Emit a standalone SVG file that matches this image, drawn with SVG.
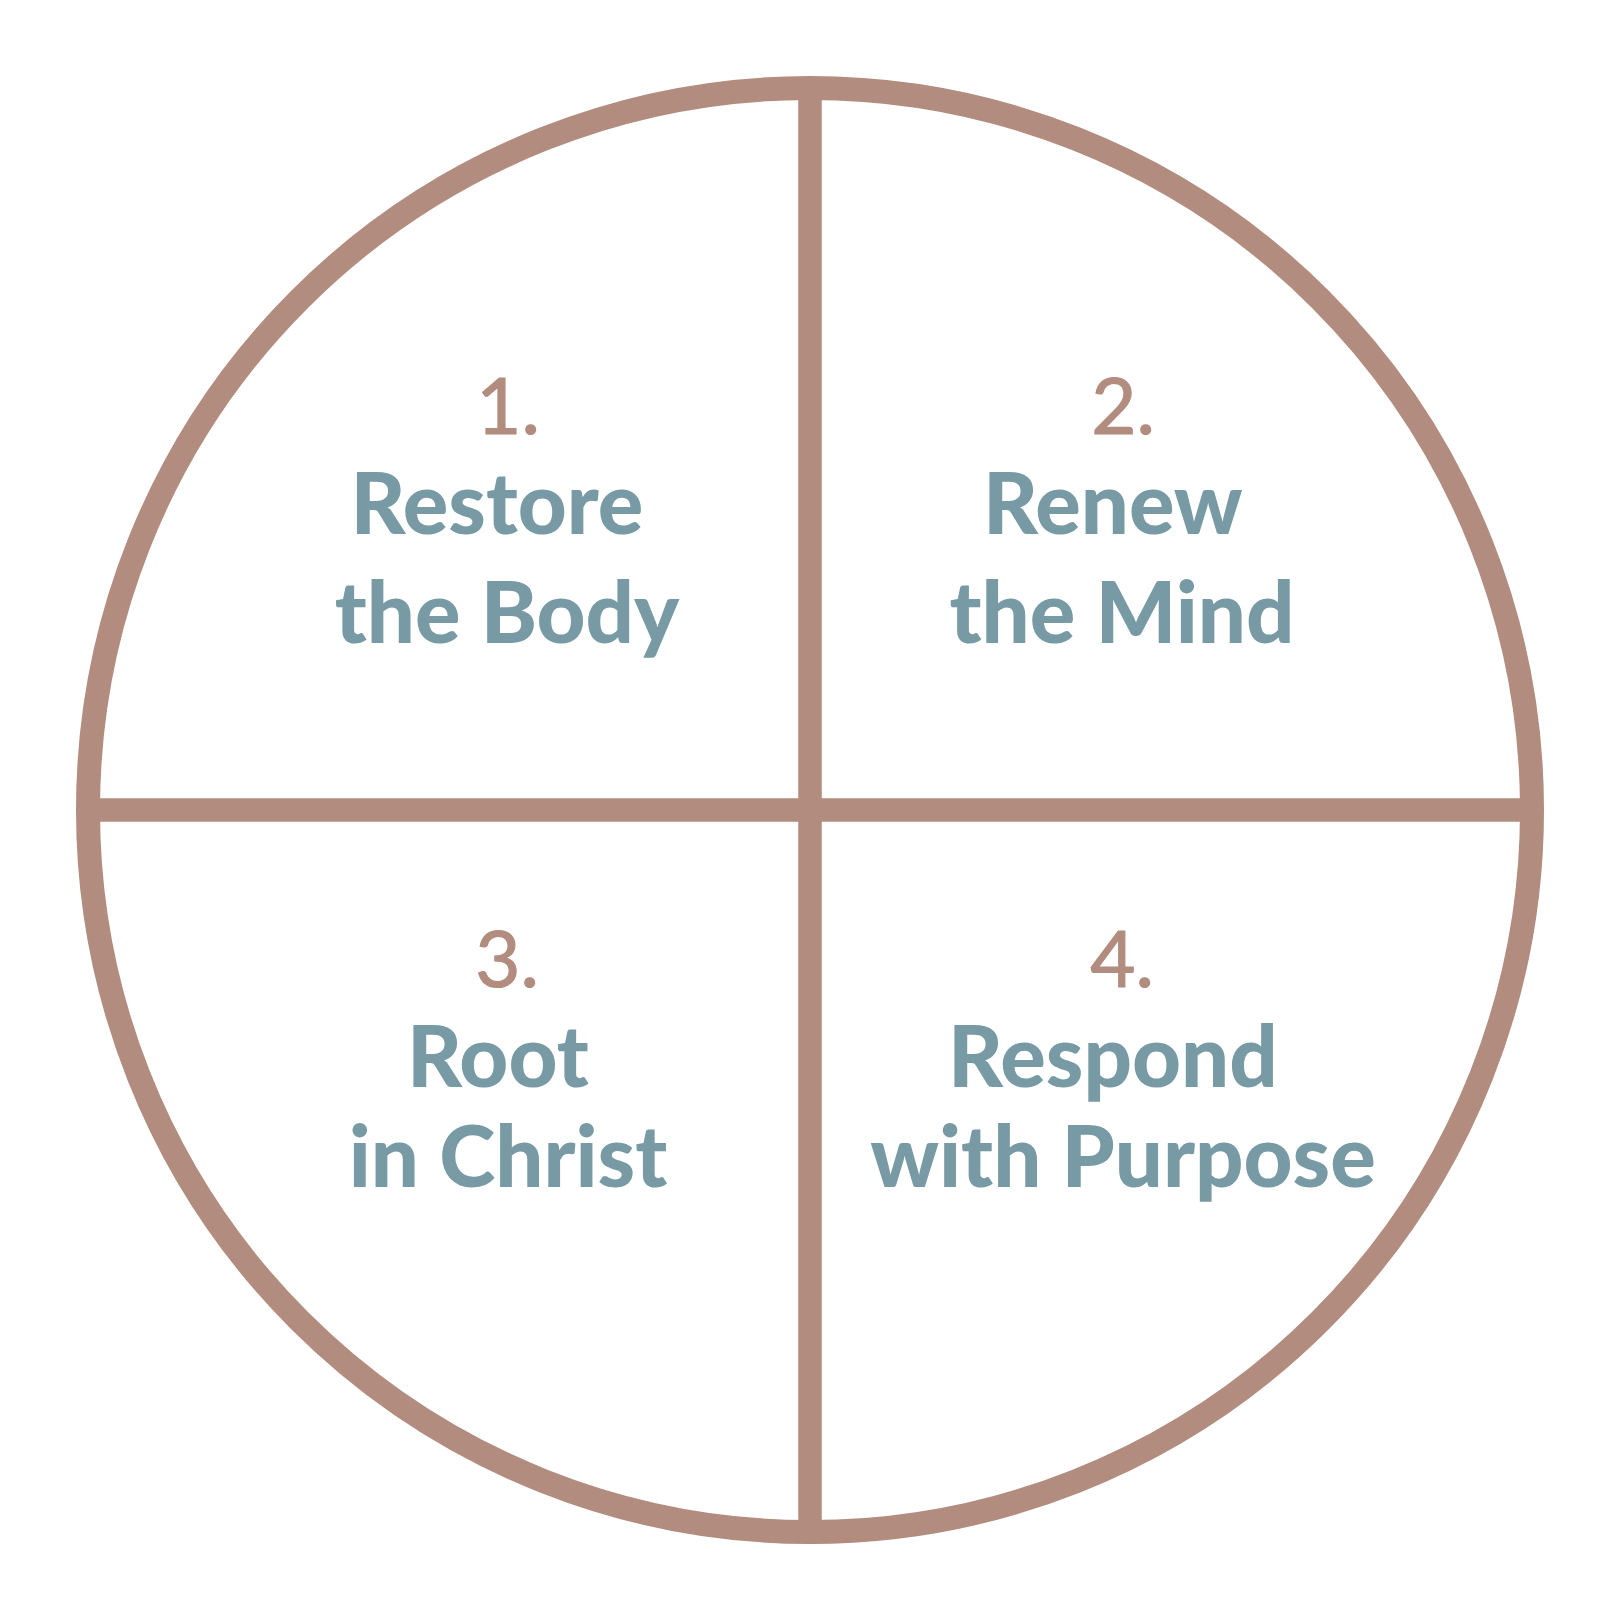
<svg xmlns="http://www.w3.org/2000/svg" width="1620" height="1620" viewBox="0 0 1620 1620">
<style>
.ring{fill:none;stroke:#b28c7e;stroke-width:24}
.div{stroke:#b28c7e;stroke-width:23.5}
.num{font-family:Lato,"Liberation Sans",sans-serif;font-weight:400;font-size:78px;fill:#b28c7e;stroke:#b28c7e;stroke-width:1.2;text-anchor:middle}
.ttl{font-family:Lato,"Liberation Sans",sans-serif;font-weight:900;font-size:85px;fill:#779aa5;text-anchor:middle}
</style>
<rect width="1620" height="1620" fill="#fff"/>
<g id="frame">
<circle class="ring" cx="810" cy="810" r="722"/>
</g>
<g id="connectors">
<line class="div" x1="810" y1="88" x2="810" y2="1532"/>
<line class="div" x1="88" y1="810" x2="1532" y2="810"/>
</g>
<g id="q1">
<text class="num" x="508" y="434">1.</text>
<text class="ttl" x="507" y="534" xml:space="preserve">Restore </text>
<text class="ttl" x="507" y="643">the Body</text>
</g>
<g id="q2">
<text class="num" x="1123" y="434">2.</text>
<text class="ttl" x="1122" y="534" xml:space="preserve">Renew </text>
<text class="ttl" x="1122" y="643">the Mind</text>
</g>
<g id="q3">
<text class="num" x="507" y="987">3.</text>
<text class="ttl" x="508" y="1087" xml:space="preserve">Root </text>
<text class="ttl" x="508" y="1187">in Christ</text>
</g>
<g id="q4">
<text class="num" x="1122" y="987">4.</text>
<text class="ttl" x="1123" y="1087" xml:space="preserve">Respond </text>
<text class="ttl" x="1123" y="1187">with Purpose</text>
</g>
</svg>
